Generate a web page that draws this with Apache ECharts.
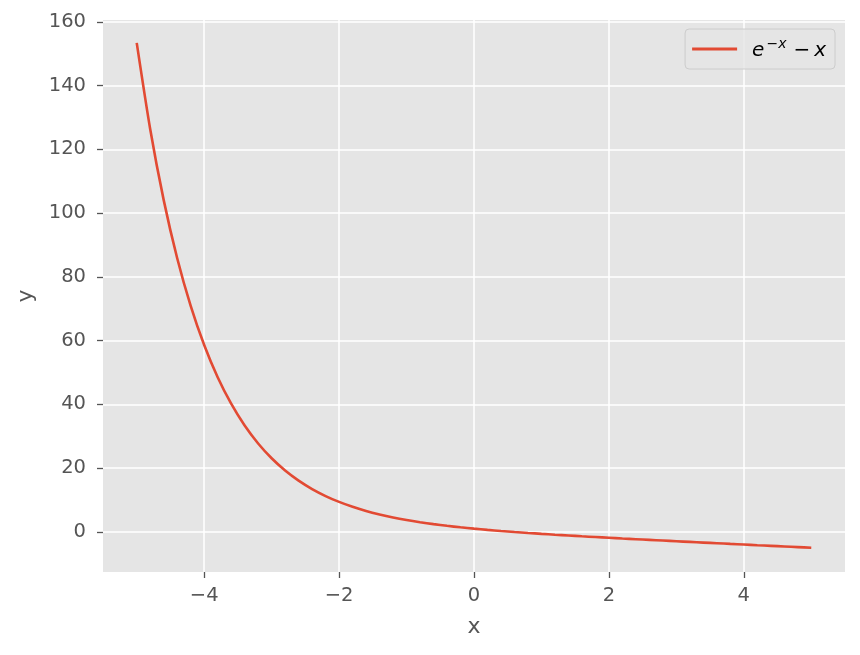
<!DOCTYPE html>
<html>
<head>
<meta charset="utf-8">
<script src="https://cdn.jsdelivr.net/npm/echarts@6/dist/echarts.min.js"></script>
<style>
html,body{margin:0;padding:0;background:#fff;}
#c{width:860px;height:655px;}
</style>
</head>
<body>
<div id="c"></div>
<script>
const xs = [-5.0,-4.8,-4.6,-4.4,-4.2,-4.0,-3.8,-3.6,-3.4,-3.2,-3.0,-2.8,-2.6,-2.4,-2.2,-2.0,-1.8,-1.6,-1.4,-1.2,-1.0,-0.8,-0.6,-0.4,-0.2,0.0,0.2,0.4,0.6,0.8,1.0,1.2,1.4,1.6,1.8,2.0,2.2,2.4,2.6,2.8,3.0,3.2,3.4,3.6,3.8,4.0,4.2,4.4,4.6,4.8,5.0];
const ys = [153.41,126.31,104.08,85.85,70.89,58.60,48.50,40.20,33.36,27.73,23.09,19.24,16.06,13.42,11.23,9.39,7.85,6.55,5.46,4.52,3.72,3.03,2.42,1.89,1.42,1.00,0.62,0.27,-0.05,-0.35,-0.63,-0.90,-1.15,-1.40,-1.63,-1.86,-2.09,-2.31,-2.53,-2.74,-2.95,-3.16,-3.37,-3.57,-3.78,-3.98,-4.19,-4.39,-4.59,-4.79,-4.99];
const xTicks = [-4,-2,0,2,4];
const yTicks = [0,20,40,60,80,100,120,140,160];
const seriesName = 'e^{-x} - x';

const fmt = v => (v < 0 ? '\u2212' + Math.abs(v) : String(v));
const chart = echarts.init(document.getElementById('c'), null, {renderer:'canvas'});
const tickStyle = {show:true, inside:false, length:6, lineStyle:{color:'#555555', width:1.3}};
chart.setOption({
  animation:false,
  backgroundColor:'#ffffff',
  grid:{left:103, right:15, top:20, bottom:83, show:true, backgroundColor:'#E5E5E5', borderWidth:0, containLabel:false},
  xAxis:{
    type:'value', min:-5.5, max:5.5,
    name:'x', nameLocation:'middle', nameGap:44,
    nameTextStyle:{fontFamily:'DejaVu Sans', fontSize:22, color:'#555555'},
    axisLine:{show:false, onZero:false},
    axisTick:Object.assign({customValues:xTicks}, tickStyle),
    axisLabel:{customValues:xTicks, formatter:fmt, margin:14, fontFamily:'DejaVu Sans', fontSize:19.5, color:'#555555'},
    splitLine:{show:true, lineStyle:{color:'#ffffff', width:1.5}}
  },
  yAxis:{
    type:'value', min:-12.6, max:160.6,
    name:'y', nameLocation:'middle', nameGap:66, nameRotate:90,
    nameTextStyle:{fontFamily:'DejaVu Sans', fontSize:22, color:'#555555'},
    axisLine:{show:false, onZero:false},
    axisTick:Object.assign({customValues:yTicks}, tickStyle),
    axisLabel:{customValues:yTicks, formatter:fmt, margin:17, fontFamily:'DejaVu Sans', fontSize:19.5, color:'#555555'},
    splitLine:{show:true, lineStyle:{color:'#ffffff', width:1.5}}
  },
  legend:{
    show:true, right:25, top:29, orient:'vertical',
    padding:[8,9,8,7], itemWidth:45, itemHeight:14, itemGap:6,
    backgroundColor:'rgba(229,229,229,0.8)', borderColor:'#CCCCCC', borderWidth:1, borderRadius:4,
    formatter: () => '{e|e}{s|\u2212x}{t|\u2009\u2212\u2009x}',
    textStyle:{
      color:'#000', padding:[0,0,0,10],
      rich:{
        e:{fontFamily:'DejaVu Sans', fontStyle:'italic', fontSize:20, color:'#000', verticalAlign:'bottom'},
        s:{fontFamily:'DejaVu Sans', fontStyle:'italic', fontSize:14, color:'#000', verticalAlign:'top', padding:[0,3,10,2]},
        t:{fontFamily:'DejaVu Sans', fontStyle:'italic', fontSize:20, color:'#000', verticalAlign:'bottom'}
      }
    },
    data:[{name:seriesName, icon:'path://M0,0 L44,0 L44,3 L0,3 Z', itemStyle:{color:'#E24A33'}}]
  },
  series:[{
    name:seriesName, type:'line', symbol:'none', showSymbol:false,
    smooth:0.25,
    lineStyle:{color:'#E24A33', width:2.6},
    itemStyle:{color:'#E24A33'},
    data: xs.map((x,i)=>[x, ys[i]])
  }]
});
</script>
</body>
</html>
